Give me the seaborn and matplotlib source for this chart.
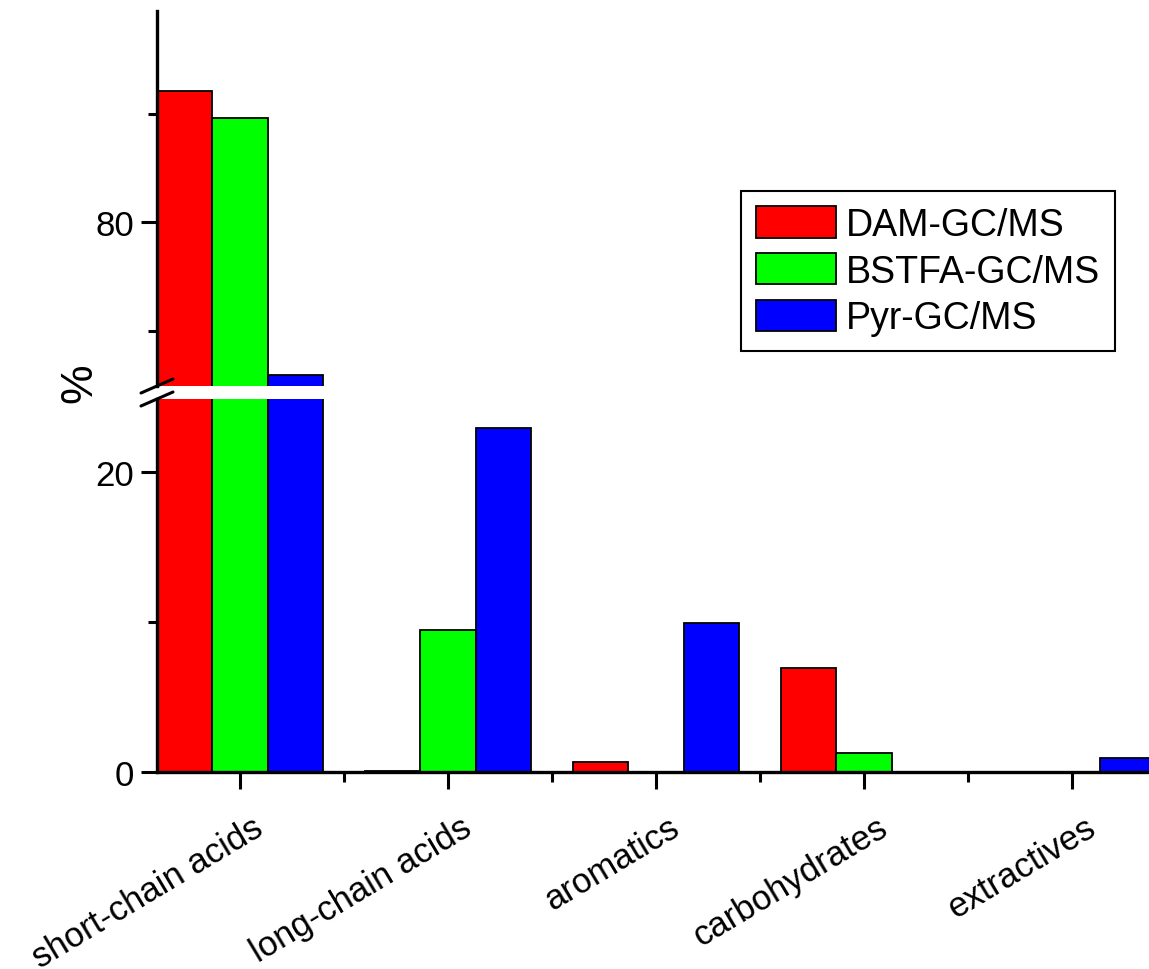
import numpy as np
import pandas as pd
import matplotlib
matplotlib.use("Agg")
import matplotlib.pyplot as plt
import matplotlib.transforms as mtransforms
from matplotlib.lines import Line2D
import seaborn as sns

categories = ["short-chain acids", "long-chain acids", "aromatics", "carbohydrates", "extractives"]
methods = ["DAM-GC/MS", "BSTFA-GC/MS", "Pyr-GC/MS"]
dam = [92.1, 0.1, 0.7, 6.95, 0.0]
bstfa = [89.65, 9.5, 0.0, 1.3, 0.0]
pyr = [65.95, 22.95, 9.95, 0.0, 0.95]
colors = ["#ff0000", "#00ff00", "#0000ff"]

df = pd.DataFrame({
    "category": categories * 3,
    "method": np.repeat(methods, len(categories)),
    "value": dam + bstfa + pyr,
})

sns.set_style("ticks")
plt.rcParams["font.family"] = ["Liberation Sans", "DejaVu Sans"]
plt.rcParams.update({"text.color": "black", "axes.edgecolor": "black",
                     "xtick.color": "black", "ytick.color": "black",
                     "axes.labelcolor": "black"})

W, H = 1149, 970
fig = plt.figure(figsize=(W / 100, H / 100), dpi=100)


def px_axes(left, top, right, bottom):
    return fig.add_axes([left / W, 1 - bottom / H, (right - left) / W, (bottom - top) / H])


ax_top = px_axes(157, 12, 1149, 387)
ax_low = px_axes(157, 400, 1149, 773)

for ax in (ax_top, ax_low):
    sns.barplot(data=df, x="category", y="value", hue="method", palette=colors,
                saturation=1, edgecolor="black", linewidth=1.3, ax=ax,
                legend=(ax is ax_top))
    ax.set_xlim(-0.4, 4.369)
    ax.set_xlabel("")
    ax.set_ylabel("")
    ax.spines[["top", "right"]].set_visible(False)
    ax.spines["left"].set_linewidth(2.4)
    ax.spines["bottom"].set_linewidth(2.4)
    ax.tick_params(axis="y", which="major", length=11.5, width=2.2, labelsize=25, pad=5)
    ax.tick_params(axis="y", which="minor", length=6.5, width=2.2)

ax_top.set_ylim(64.9, 99.5)
ax_top.set_yticks([80])
ax_top.set_yticks([70, 90], minor=True)
ax_top.spines["bottom"].set_visible(False)
ax_top.tick_params(axis="x", which="both", bottom=False, labelbottom=False)

ax_low.set_ylim(0, 24.9)
ax_low.set_yticks([0, 20])
ax_low.set_yticks([10], minor=True)
ax_low.set_xticks(range(len(categories)))
ax_low.set_xticks(np.arange(len(categories) - 1) + 0.5, minor=True)
ax_low.set_xticklabels(categories, rotation=31, ha="right", va="top",
                       rotation_mode="anchor", fontsize=25)
ax_low.tick_params(axis="x", which="major", length=12.5, width=2.2, pad=10)
ax_low.tick_params(axis="x", which="minor", length=7, width=2.2)
# rotated labels sit a little right of and below their ticks
shift = mtransforms.ScaledTranslation(0.12, -0.07, fig.dpi_scale_trans)
for lab in ax_low.get_xticklabels():
    lab.set_transform(lab.get_transform() + shift)

# legend
leg = ax_top.get_legend()
handles = leg.legend_handles
labels = [t.get_text() for t in leg.get_texts()]
leg.remove()
fig.legend(handles, labels, loc="upper left",
           bbox_to_anchor=(741 / W, 1 - 192 / H), bbox_transform=fig.transFigure,
           borderaxespad=0, fontsize=27, frameon=True, fancybox=False,
           edgecolor="black", framealpha=1, handlelength=2.13, handleheight=0.92,
           handletextpad=0.27, labelspacing=0.27, borderpad=0.4).get_frame().set_linewidth(1.5)

# break marks on the left spine
def slash(y_px):
    fig.add_artist(Line2D([141 / W, 173 / W], [1 - (y_px + 7) / H, 1 - (y_px - 7) / H],
                          color="black", lw=2.2, transform=fig.transFigure))


slash(387)
slash(400)

fig.text(80 / W, 1 - 383 / H, "%", rotation=90, ha="center", va="center", fontsize=32)

fig.savefig("out.png", dpi=100)
